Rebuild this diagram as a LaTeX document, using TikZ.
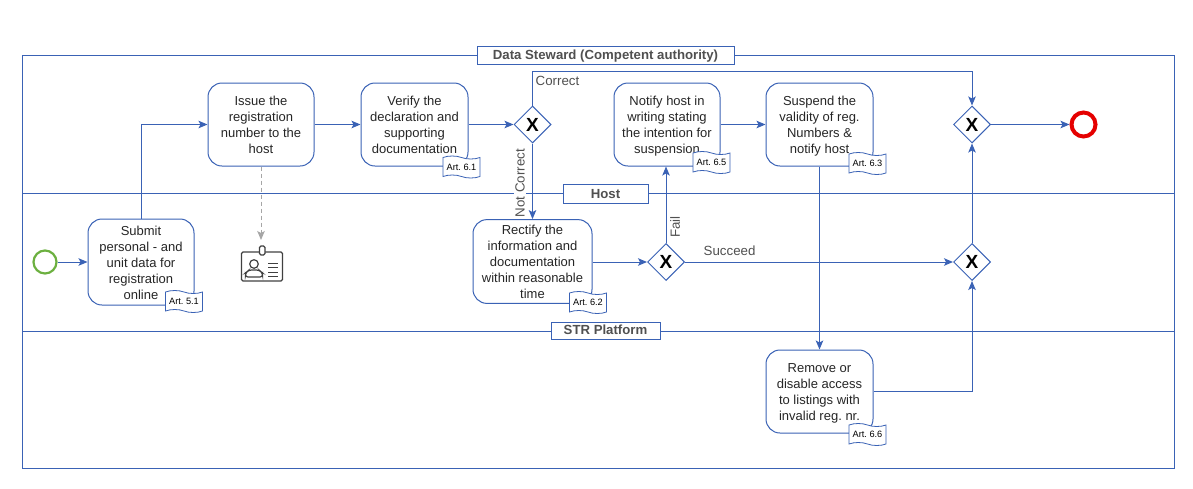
\documentclass[tikz,border=0pt]{standalone}
\usepackage{fontspec}
\setmainfont{Liberation Sans}
\usetikzlibrary{arrows.meta,positioning,shapes.geometric,shapes.symbols}
\definecolor{flow}{HTML}{3A62B5}
\definecolor{lbl}{HTML}{505050}
\definecolor{startgreen}{HTML}{6CB040}
\newcommand{\tasktext}[1]{\rule{0pt}{15pt}#1\rule[-4.8pt]{0pt}{4.8pt}}
\frenchspacing
\tikzset{
>={Stealth[length=9pt,width=7.5pt,inset=2pt]},
  task/.style={
    rectangle,
    rounded corners=14pt,
    draw=flow, line width=1pt,
    fill=white,
    align=center,
    font=\fontsize{13}{16}\selectfont,
    text=black!85,
    inner sep=0pt,
    minimum width=106pt,
    minimum height=83pt},
  artnote/.style={
    tape,
    tape bend top=out and in,
    tape bend bottom=out and in,
    tape bend height=3pt,
    draw=flow, line width=.8pt,
    fill=white,
    text=black,
    font=\fontsize{9.2}{10}\selectfont,
    inner sep=0pt,
    minimum width=37pt,
    minimum height=22pt},
  gate/.style={
    diamond,
    draw=flow, line width=1pt,
    fill=white,
    inner sep=0pt,
    minimum width=37pt,
    minimum height=37pt,
    font=\fontsize{19}{19}\selectfont\bfseries},
  lanelabel/.style={
    rectangle,
    draw=flow, line width=.9pt,
    fill=white,
    text=lbl,
    inner sep=0pt,
    text height=12pt,
    text depth=2.5pt,
    font=\fontsize{13.2}{15}\selectfont\bfseries},
  line/.style={draw=flow, line width=.9pt},
  flowline/.style={draw=flow, line width=1pt, ->},
  edgelabel/.style={text=lbl, inner sep=1pt, font=\fontsize{13.3}{15}\selectfont},
}
\begin{document}
\begin{tikzpicture}[x=1pt,y=-1pt]
\useasboundingbox (0,0) rectangle (1193,488);
% pool and lanes
\node[draw=flow, line width=.9pt, minimum width=1152pt, minimum height=413pt, inner sep=0pt] (Pool) at (598,261.5) {};
\draw[line] (22,193) coordinate (HostL) -- (1174,193) coordinate (HostR);
\draw[line] (22,331) coordinate (PlatL) -- (1174,331) coordinate (PlatR);
\node[lanelabel, minimum width=257pt, minimum height=18pt] (Steward) at (605.5,55) {Data Steward (Competent authority)};
\node[lanelabel, minimum width=85pt, minimum height=19pt] (HostLabel) at (605.5,193.5) {Host};
\node[lanelabel, minimum width=109pt, minimum height=17pt, text height=9.5pt] (PlatLabel) at (605.5,330.5) {STR Platform};

% events
\node[circle, draw=startgreen, line width=2.2pt, minimum size=23pt, inner sep=0pt] (Start) at (45,262) {};
\node[circle, draw=red!90!black, line width=4pt, minimum size=24pt, inner sep=0pt] (End) at (1083.5,124.5) {};

% tasks
\node[task, minimum height=86pt] (Submit) at (141,262) {\tasktext{Submit\\personal - and\\unit data for\\registration\\online}};
\node[task] (Issue) at (261,124.5) {\tasktext{Issue the\\registration\\number to the\\host}};
\node[task, minimum width=107pt] (Verify) at (414.5,124.5) {\tasktext{Verify the\\declaration and\\supporting\\documentation}};
\node[task] (Notify) at (667,124.5) {\tasktext{Notify host in\\writing stating\\the intention for\\suspension}};
\node[task, minimum width=107pt] (Suspend) at (819.5,124.5) {\tasktext{Suspend the\\validity of reg.\\Numbers \&\\notify host}};
\node[task, minimum width=119pt] (Rectify) at (532.5,261.5) {\tasktext{Rectify the\\information and\\documentation\\within reasonable\\time}};
\node[task, minimum width=107pt] (Remove) at (819.5,391.5) {\tasktext{Remove or\\disable access\\to listings with\\invalid reg. nr.}};

% gateways
\node[gate] (GateCheck) at (532.5,124.5) {X};
\node[gate] (GateResult) at (666,262) {X};
\node[gate] (GateJoin) at (972,124.5) {X};
\node[gate] (GateMerge) at (972,262) {X};

% article notes
\node[artnote] (Art51) at (184,301.5) {Art. 5.1};
\node[artnote] (Art61) at (461.5,167) {Art. 6.1};
\node[artnote] (Art65) at (711.5,162.5) {Art. 6.5};
\node[artnote] (Art63) at (867.5,163.5) {Art. 6.3};
\node[artnote] (Art62) at (588,302.5) {Art. 6.2};
\node[artnote] (Art66) at (867.5,434.5) {Art. 6.6};

% flows
\draw[flowline] (Start) -- (Submit);
\draw[flowline] (Submit.north) |- (Issue.west);
\draw[flowline] (Issue) -- (Verify);
\draw[flowline] (Verify) -- (GateCheck);
\draw[flowline] (GateCheck.north) -- ++(0,-34) -| (GateJoin.north);
\draw[flowline] (GateCheck.south) -- (Rectify.north);
\draw[flowline] (Rectify.east |- GateResult) -- (GateResult);
\draw[flowline] (GateResult.north) -- (GateResult.north |- Notify.south);
\draw[flowline] (GateResult) -- (GateMerge);
\draw[flowline] (Notify) -- (Suspend);
\draw[flowline] (Suspend.south) -- (Remove.north);
\draw[flowline] (Remove.east) -| (GateMerge.south);
\draw[flowline] (GateMerge.north) -- (GateJoin.south);
\draw[flowline] (GateJoin) -- (End);
\coordinate (CardTop) at (261,240);
\draw[->, gray!70, line width=1pt, dash pattern=on 4pt off 3pt] (Issue.south) -- (CardTop);

% flow labels
\node[edgelabel, anchor=west] (CorrectLabel) at (534.5,81) {Correct};
\node[edgelabel, rotate=90, fill=white] (NotCorrectLabel) at (520,183) {Not Correct};
\node[edgelabel, rotate=90] (FailLabel) at (675,227) {Fail};
\node[edgelabel, anchor=west] (SucceedLabel) at (702.5,251) {Succeed};

% registration card
\draw[black!75, line width=1.2pt, rounded corners=1.5pt] (241.5,252) rectangle (282.5,281);
\draw[black!75, line width=1.2pt, fill=white, rounded corners=1.5pt] (259.5,246) rectangle (265,255);
\draw[black!75, line width=1.2pt] (254,264) circle (4.3pt);
\draw[black!75, line width=1.2pt, rounded corners=2.5pt] (245.5,277) -- (245.5,273) -- (249,270) -- (259,270) -- (262.5,273) -- (262.5,277) -- cycle;
\foreach \y in {263,267.5,272,276.5}
  \draw[black!75] (268,\y) -- (278,\y);
\end{tikzpicture}
\end{document}
